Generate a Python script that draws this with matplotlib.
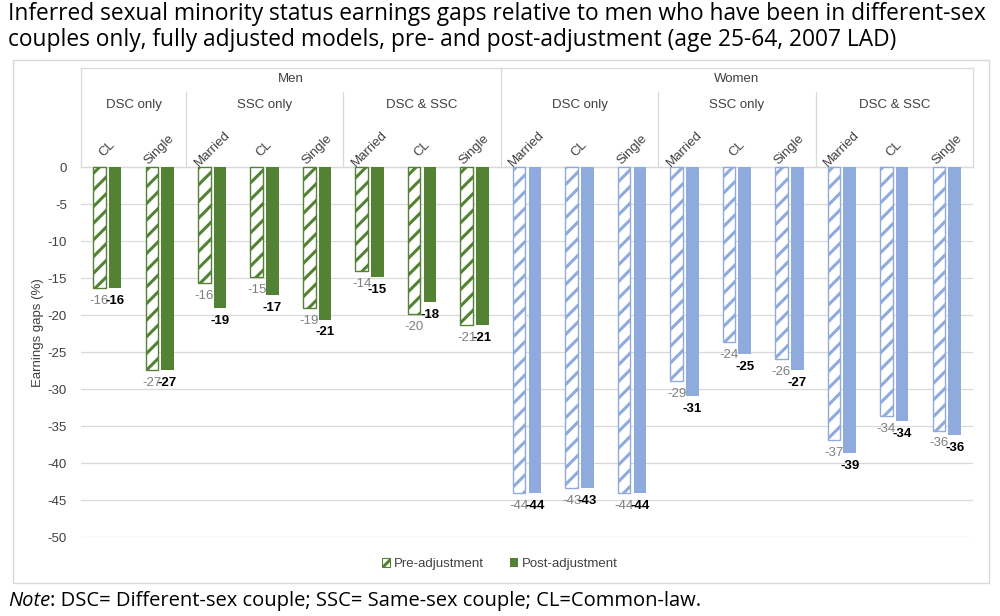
import matplotlib.pyplot as plt
import matplotlib.patches as mpatches
import numpy as np

plt.rcParams['font.family'] = ['Liberation Sans', 'DejaVu Sans']
plt.rcParams['hatch.linewidth'] = 2.2

# chart values
sexes = ['Men', 'Women']
groups = ['DSC only', 'SSC only', 'DSC & SSC', 'DSC only', 'SSC only', 'DSC & SSC']
group_cats = [['CL', 'Single'],
              ['Married', 'CL', 'Single'],
              ['Married', 'CL', 'Single'],
              ['Married', 'CL', 'Single'],
              ['Married', 'CL', 'Single'],
              ['Married', 'CL', 'Single']]
pre_adj = [-16.4, -27.4, -15.7, -14.8, -19.0, -14.0, -19.8, -21.3,
           -44.1, -43.4, -44.1, -28.9, -23.7, -26.0, -36.9, -33.7, -35.6]
post_adj = [-16.4, -27.4, -19.0, -17.3, -20.6, -14.8, -18.2, -21.3,
            -44.0, -43.4, -44.0, -30.9, -25.2, -27.4, -38.7, -34.3, -36.2]
yticks = list(range(0, -55, -5))

green = '#548235'
blue = '#8FAADC'

cats = [c for g in group_cats for c in g]
n = len(cats)
x = np.arange(n)
n_men = sum(len(g) for g in group_cats[:3])
colors = [green] * n_men + [blue] * (n - n_men)

fig = plt.figure(figsize=(10, 6.16), dpi=100)
ax = fig.add_axes([0.081, 0.1282, 0.892, 0.7614])

top = 13.4
ax.set_xlim(-0.5, n - 0.5)
ax.set_ylim(-50, top)
ax.set_yticks(yticks)
ax.set_yticklabels([str(t) for t in yticks], fontsize=9.5, color='#404040')
ax.tick_params(axis='y', length=0, pad=10)
ax.set_xticks([])
for s in ax.spines.values():
    s.set_visible(False)
for t in yticks:
    ax.axhline(t, color='#D9D9D9', lw=0.9, zorder=0)

w = 0.24
off = 0.15
ax.bar(x - off, pre_adj, w, color='white', edgecolor=colors, hatch='//', lw=1.0, zorder=2)
ax.bar(x + off, post_adj, w, color=colors, lw=0, zorder=2)

# value labels (Excel style, they overlap in places just like the original)
for i in range(n):
    ax.annotate(f'{pre_adj[i]:.0f}', (x[i] - off, pre_adj[i]), xytext=(0, -5),
                textcoords='offset points', ha='center', va='top', fontsize=9.5, color='#7F7F7F')
    ax.annotate(f'{post_adj[i]:.0f}', (x[i] + off, post_adj[i]), xytext=(0, -5),
                textcoords='offset points', ha='center', va='top', fontsize=9.5,
                color='black', fontweight='bold')

# hierarchical category axis above zero
line_kw = dict(color='#D9D9D9', lw=0.9, clip_on=False, zorder=1)
ax.plot([-0.5, n - 0.5], [top, top], **line_kw)
ax.plot([-0.5, n - 0.5], [0, 0], **line_kw)
start = 0
sub_top = 10.1
for gi, g in enumerate(group_cats):
    end = start + len(g)
    ax.text((start + end - 1) / 2, 8.4, groups[gi], ha='center', va='center', fontsize=9.5, color='#404040')
    for k, c in enumerate(g):
        ax.text(start + k, 2.4, c, ha='center', va='center', rotation=45, fontsize=9.5,
                color='#404040')
    if gi > 0 and gi != 3:
        ax.plot([start - 0.5] * 2, [0, sub_top], **line_kw)
    start = end
ax.plot([-0.5] * 2, [0, top], **line_kw)
ax.plot([n_men - 0.5] * 2, [0, top], **line_kw)
ax.plot([n - 0.5] * 2, [0, top], **line_kw)
ax.text((n_men - 1) / 2, 11.9, sexes[0], ha='center', va='center', fontsize=9.5, color='#404040')
ax.text((n_men + n - 1) / 2, 11.9, sexes[1], ha='center', va='center', fontsize=9.5, color='#404040')

fig.text(0.038, 1 - 333 / 616, 'Earnings gaps (%)', rotation=90, ha='center', va='center',
         fontsize=9.5, color='#404040')

# chart frame
fig.patches.append(mpatches.Rectangle((0.013, 1 - 583 / 616), 0.976, (583 - 60) / 616,
                                      transform=fig.transFigure, fill=False,
                                      edgecolor='#D9D9D9', lw=1.0))

handles = [mpatches.Patch(facecolor='white', edgecolor=green, hatch='//', lw=0.8),
           mpatches.Patch(facecolor=green)]
fig.legend(handles, ['Pre-adjustment', 'Post-adjustment'], loc='center',
           bbox_to_anchor=(0.5, 1 - 564 / 616), ncol=2, frameon=False, fontsize=9.5,
           handlelength=0.6, handleheight=0.6, handletextpad=0.3, columnspacing=2.0,
           labelcolor='#404040')

title_font = ['Open Sans', 'DejaVu Sans']
fig.text(0.008, 0.997, 'Inferred sexual minority status earnings gaps relative to men who have been in different-sex\n'
         'couples only, fully adjusted models, pre- and post-adjustment (age 25-64, 2007 LAD)',
         ha='left', va='top', fontsize=16.4, family=title_font, linespacing=1.1)

# note line: italic "Note" followed by regular text
note_y = 1 - 601 / 616
t1 = fig.text(0.008, note_y, 'Note', ha='left', va='center', fontsize=14.5,
              family=title_font, style='italic')
r = fig.canvas.get_renderer()
bb = t1.get_window_extent(renderer=r)
fig.text(bb.x1 / fig.bbox.width, note_y,
         ': DSC= Different-sex couple; SSC= Same-sex couple; CL=Common-law.',
         ha='left', va='center', fontsize=14.5, family=title_font)

fig.savefig('out.png', dpi=100)
